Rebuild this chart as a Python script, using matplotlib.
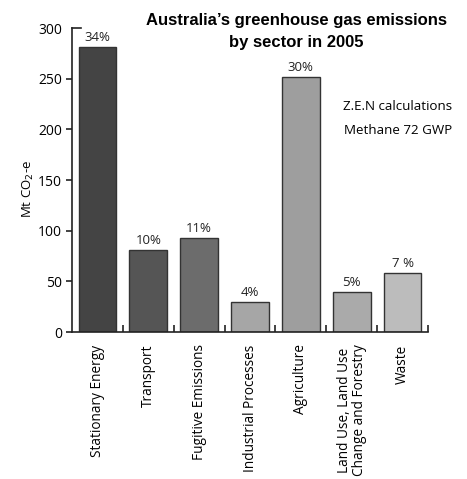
import numpy as np
import matplotlib
matplotlib.use("Agg")
import matplotlib.pyplot as plt

# data
sectors = ["Stationary Energy", "Transport", "Fugitive Emissions",
           "Industrial Processes", "Agriculture",
           "Land Use, Land Use\nChange and Forestry", "Waste"]
emissions = [281, 81, 93, 30, 252, 39, 58]
shares = ["34%", "10%", "11%", "4%", "30%", "5%", "7 %"]
bar_colors = ["#444444", "#555555", "#6c6c6c", "#a6a6a6", "#9e9e9e", "#aaaaaa", "#bcbcbc"]

plt.rcParams['font.family'] = ['Open Sans', 'DejaVu Sans']

fig = plt.figure(figsize=(4.67, 4.79), dpi=100)
ax = fig.add_axes([72/467, 1 - 332/479, 356/467, 304/479])

x = np.arange(len(sectors))
bars = ax.bar(x, emissions, width=0.74, color=bar_colors, edgecolor="#333333", linewidth=1)

for xi, v, s in zip(x, emissions, shares):
    ax.text(xi, v + 3, s, ha="center", va="bottom", fontsize=9.5, color="#222222")

ax.set_xlim(-0.5, len(sectors) - 0.5)
ax.set_ylim(0, 300)

# axes look
for side in ["top", "right"]:
    ax.spines[side].set_visible(False)
for side in ["left", "bottom"]:
    ax.spines[side].set_color("#222222")
    ax.spines[side].set_linewidth(1.2)

ax.set_yticks([0, 50, 100, 150, 200, 250, 300])
ax.tick_params(axis="y", direction="out", length=4, width=1.2, color="#222222",
               labelsize=10, pad=3)
ax.yaxis.get_major_ticks()[-1].tick1line.set_visible(False)
# small cap at the top of the y axis
ax.plot([-0.5, -0.32], [300, 300], color="#222222", lw=1.2, clip_on=False)

ax.set_xticks(x)
ax.set_xticklabels(sectors, rotation=90, fontsize=9.8, va="top", linespacing=1.0)
ax.tick_params(axis="x", length=0, pad=9)
ax.set_xticks(np.arange(0.5, len(sectors), 1.0), minor=True)
ax.tick_params(axis="x", which="minor", direction="in", length=5, width=1.2, color="#222222")

ax.set_ylabel("Mt CO$_2$-e", fontsize=9.5)
ax.yaxis.set_label_coords(-0.1, 0.47)

fig.text(296/467, 1 - 13/479, "Australia\u2019s greenhouse gas emissions\nby sector in 2005",
         ha="center", va="top", fontsize=12, fontweight="bold",
         family="Liberation Sans", linespacing=1.55)
fig.text(452/467, 1 - 106/479, "Z.E.N calculations", ha="right", va="center", fontsize=9.6)
fig.text(452/467, 1 - 130/479, "Methane 72 GWP", ha="right", va="center", fontsize=9.6)

fig.savefig("out.png", dpi=100)
